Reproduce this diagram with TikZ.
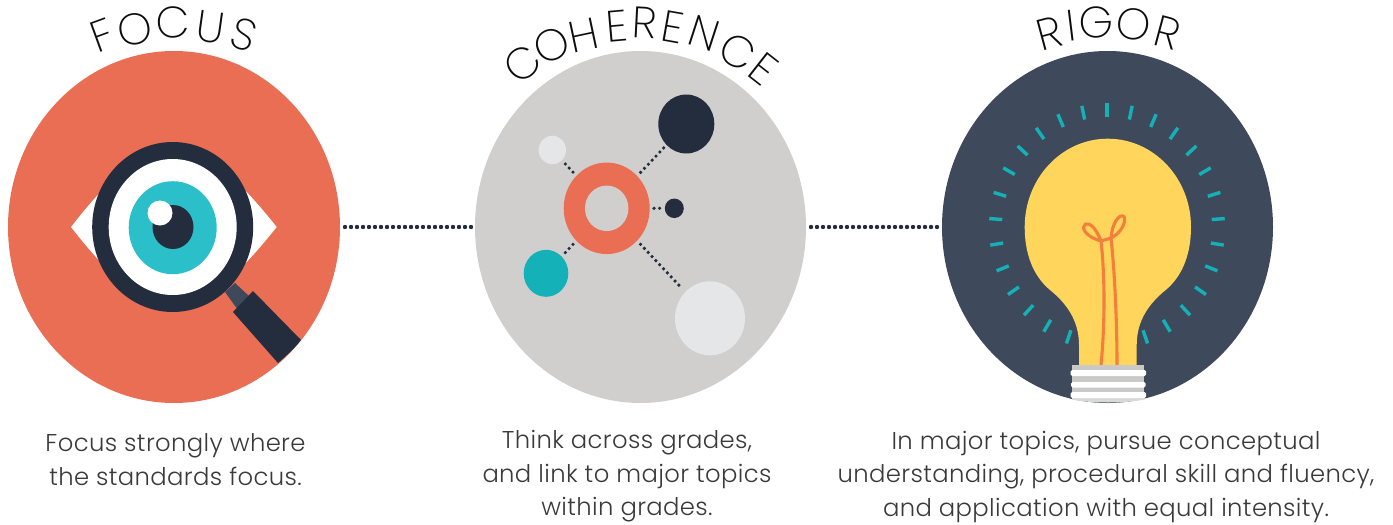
\documentclass[tikz,border=0pt]{standalone}
\usepackage{fontspec}
\setmainfont{Poppins}[UprightFont=* Light,LetterSpace=1.5]
\newfontfamily\titlefont{Poppins}[UprightFont=* ExtraLight]
\usetikzlibrary{shapes.geometric}
\definecolor{coral}{HTML}{EA6E53}
\definecolor{ink}{HTML}{232D3E}
\definecolor{slate}{HTML}{3E4A5B}
\definecolor{stone}{HTML}{D0CFCE}
\definecolor{pale}{HTML}{E5E6E8}
\definecolor{iris}{HTML}{2BBFC9}
\definecolor{teal}{HTML}{14B2B8}
\definecolor{bulb}{HTML}{FFD55C}
\definecolor{wire}{HTML}{F47F3C}
\definecolor{txt}{HTML}{3A3A3A}
\definecolor{band}{HTML}{C9C9C7}
\tikzset{
  oval/.style n args={3}{ellipse,inner sep=0pt,outer sep=0pt,draw=none,fill=#1,minimum width=#2pt,minimum height=#3pt},
  bigdots/.style={draw=ink,line width=4.4pt,line cap=round,dash pattern=on 0pt off 6pt,shorten >=3pt,shorten <=5pt},
  smalldots/.style={draw=ink,line width=3.6pt,line cap=round,dash pattern=on 0pt off 5.6pt},
  ltr/.style={font=\titlefont\fontsize{44}{44}\selectfont,text=black!95,inner sep=0pt,anchor=center},
  body/.style={font=\fontsize{24.3}{33.5}\selectfont,text=txt,align=center,inner sep=0pt,anchor=center},
  filament/.style={draw=wire,line width=3.1pt,line join=round,line cap=round},
}
\begin{document}
\begin{tikzpicture}[x=1pt,y=-1pt]
\useasboundingbox (0,0) rectangle (1393,525);
% big discs
\node[oval={coral}{332}{352}] (focus) at (174,227) {};
\node[oval={stone}{331}{352}] (coherence) at (640.5,227) {};
\node[oval={slate}{331}{352}] (rigor) at (1107.5,227) {};
\draw[bigdots] (focus) -- (coherence);
\draw[bigdots] (coherence) -- (rigor);
% eye
\fill[white] (71,227) .. controls (100,190) and (135,150) .. (173,150) .. controls (212,150) and (247,190) .. (276.7,227)
  .. controls (247,264) and (212,304) .. (173,304) .. controls (135,304) and (100,264) .. (71,227) -- cycle;
\fill[slate] (225,292) -- (235,283) -- (249,296) -- (238,310) -- cycle;
\fill[ink] (233,312) -- (253,291) -- (301,340) .. controls (294,349) and (286,356) .. (278,363) -- cycle;
\node[oval={ink}{161}{170}] (lens) at (172.7,227) {};
\node[oval={white}{128}{136}] (glass) at (172.7,227) {};
\node[oval={iris}{88}{93}] (irisdisc) at (172.7,227.7) {};
\node[oval={ink}{41}{44}] (pupil) at (173,227) {};
\node[oval={white}{25}{25}] (glint) at (160,213) {};
% network
\node[oval={coral}{86}{91.5}] (ring) at (606.7,208.3) {};
\node[oval={stone}{43.5}{45.5}] (hole) at (606.7,208.3) {};
\node[oval={ink}{56}{59}] (nA) at (686.3,124) {};
\node[oval={pale}{27.4}{28.6}] (nB) at (552.3,150) {};
\node[oval={ink}{19}{19.5}] (nC) at (674.3,208.3) {};
\node[oval={teal}{44.6}{47}] (nD) at (546,273.3) {};
\node[oval={pale}{70}{74}] (nE) at (710,318.3) {};
\draw[smalldots,shorten <=5pt,shorten >=3.5pt] (ring) -- (nA);
\draw[smalldots,shorten <=5pt,shorten >=3.5pt] (ring) -- (nB);
\draw[smalldots,shorten <=4.3pt,shorten >=4pt] (ring) -- (nC);
\draw[smalldots,shorten <=5pt,shorten >=4pt] (ring) -- (nD);
\draw[smalldots,shorten <=5pt,shorten >=4pt] (ring) -- (nE);
% rays
\foreach \k in {-13,...,13}{
  \pgfmathsetmacro{\a}{90-12.3*\k}
  \draw[teal,line width=3.4pt] ({1107+105*cos(\a)},{227-110*sin(\a)}) -- ({1107+118*cos(\a)},{227-124*sin(\a)});
}
% bulb
\fill[bulb] (1079,367) -- (1079,345) .. controls (1079,320) and (1066,303) .. (1050,290)
  .. controls (1032,275) and (1024.7,252) .. (1024.7,227)
  .. controls (1024.7,178) and (1062,138.7) .. (1107.7,138.7)
  .. controls (1153.7,138.7) and (1191,178) .. (1191,227)
  .. controls (1191,252) and (1183.7,275) .. (1165.7,290)
  .. controls (1149.7,303) and (1136.7,320) .. (1136.7,345) -- (1136.7,367) -- cycle;
% filament
\draw[filament] (1101,365) .. controls (1105,325) and (1105,275) .. (1101,241)
  .. controls (1097,230) and (1090,222) .. (1085.5,224) .. controls (1081,227) and (1084,236) .. (1101,241)
  -- (1111,238) .. controls (1120,234) and (1127,222) .. (1124,216.5) .. controls (1119,213) and (1112,224) .. (1111,238)
  .. controls (1115,275) and (1117,325) .. (1117,365);
% base
\fill[band] (1072,365) rectangle (1143.5,371);
\fill[band] (1072,375) rectangle (1144,383);
\fill[band] (1072,387) rectangle (1144,393);
\fill[band!70!white] (1072,397) -- (1144.5,397) -- (1144.5,399.5) .. controls (1125,403.5) and (1090,403.5) .. (1072,399.5) -- cycle;
\fill[white,rounded corners=1.5pt] (1070.5,370) rectangle (1146,376);
\fill[white,rounded corners=1.5pt] (1071,382) rectangle (1145.5,387.5);
\fill[white,rounded corners=1.5pt] (1070.5,392) rectangle (1146,398);
% titles
\node[ltr,rotate=20] (f1) at (102,35) {F};
\node[ltr,rotate=10] (f2) at (135,29) {O};
\node[ltr,rotate=2] (f3) at (173,22) {C};
\node[ltr,rotate=-8] (f4) at (211,27) {U};
\node[ltr,rotate=-18] (f5) at (244,35) {S};
\node[ltr,rotate=40] (c1) at (523,64) {C};
\node[ltr,rotate=25] (c2) at (552,45) {O};
\node[ltr,rotate=12] (c3) at (584,35) {H};
\node[ltr,rotate=5] (c4) at (617,26) {E};
\node[ltr,rotate=-3] (c5) at (645,23) {R};
\node[ltr,rotate=-10] (c6) at (673,27) {E};
\node[ltr,rotate=-18] (c7) at (704,33) {N};
\node[ltr,rotate=-28] (c8) at (738,52) {C};
\node[ltr,rotate=-38] (c9) at (764,69) {E};
\node[ltr,rotate=15] (r1) at (1049,33) {R};
\node[ltr,rotate=7] (r2) at (1071,26) {I};
\node[ltr,rotate=2] (r3) at (1096,22) {G};
\node[ltr,rotate=-7] (r4) at (1134,24) {O};
\node[ltr,rotate=-15] (r5) at (1167,33) {R};
% captions
\node[body] (t1) at (175.5,459.5) {Focus strongly where\\the standards focus.};
\node[body] (t2) at (627,476.5) {Think across grades,\\and link to major topics\\within grades.};
\node[body] (t3) at (1106,476.5) {In major topics, pursue conceptual\\understanding, procedural skill and fluency,\\and application with equal intensity.};
\end{tikzpicture}
\end{document}
